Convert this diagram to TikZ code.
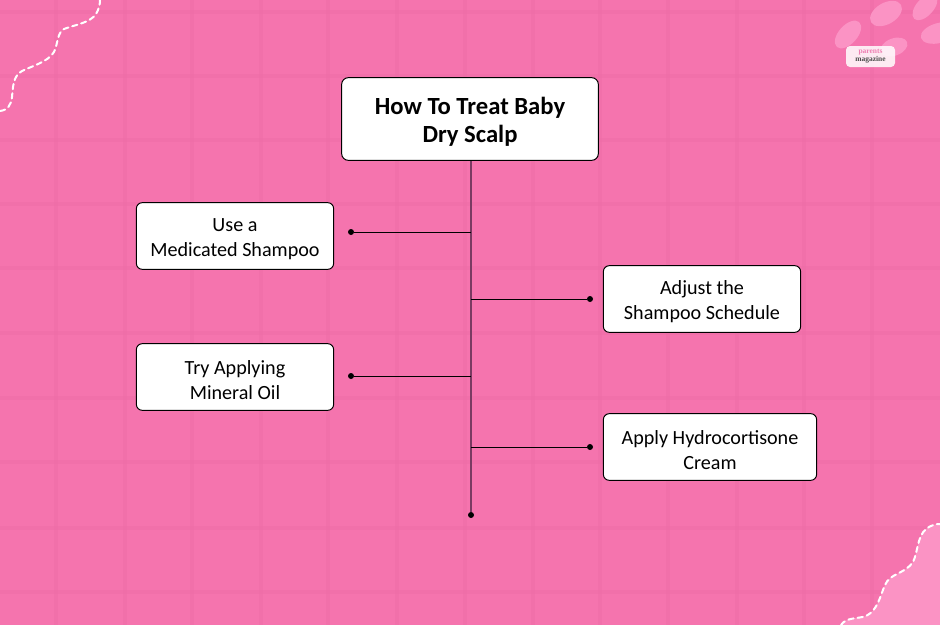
\documentclass[tikz,border=0pt]{standalone}
\usepackage{fontspec}
\setmainfont{Carlito}
\newfontfamily\logofont{Liberation Serif}
\definecolor{bgpink}{HTML}{F574AE}
\definecolor{gridpink}{HTML}{EE6DA7}
\definecolor{lightpink}{HTML}{FB93C4}
\definecolor{trunkcol}{HTML}{7A3A62}
\definecolor{logopink}{HTML}{EE7FB2}
\newcommand\fstup{\rule{0pt}{14.5pt}}
\newcommand\ttlup{\rule{0pt}{17pt}}
\tikzset{
 x=0.75pt,y=-0.75pt,
 item/.style={draw=black,fill=white,rounded corners=4.5pt,line width=0.75pt,align=center,font=\fontsize{15.1}{18.75}\selectfont,inner sep=0pt},
 title/.style={item,font=\fontsize{18.5}{21}\selectfont\bfseries,rounded corners=5pt},
 conn/.style={draw=black,line width=0.75pt},
 trunk/.style={draw=trunkcol,line width=1.2pt},
 dot/.style={circle,fill=black,inner sep=0pt,minimum size=4.5pt},
 gridl/.style={draw=gridpink,line width=2.6pt,opacity=0.5},
 deco/.style={fill=lightpink},
 wave/.style={draw=white,line width=1.5pt,dash pattern=on 4pt off 3pt,line cap=round},
}
\begin{document}
\begin{tikzpicture}
\useasboundingbox (0,0) rectangle (940,625);
\fill[bgpink] (0,0) rectangle (940,625);
\foreach \gx in {56,125,192,261,328,397,465,533,600,668,737,804,872}
  \draw[gridl] (\gx,0) -- (\gx,625);
\foreach \gy in {12,76,140,204,268,333,398,462,528,592}
  \draw[gridl] (0,\gy) -- (940,\gy);
% corner decoration, bottom right
\fill[deco] (841,625) .. controls (846,617) and (858,619) .. (866,616)
  .. controls (878,610) and (880,596) .. (885,585)
  .. controls (890,573) and (905,574) .. (913,562)
  .. controls (918,552) and (917,537) .. (926,529)
  .. controls (931,525) and (936,524) .. (940,524) -- (940,625) -- cycle;
\draw[wave] (841,625) .. controls (846,617) and (858,619) .. (866,616)
  .. controls (878,610) and (880,596) .. (885,585)
  .. controls (890,573) and (905,574) .. (913,562)
  .. controls (918,552) and (917,537) .. (926,529)
  .. controls (931,525) and (936,524) .. (940,524);
% wave, top left
\draw[wave] (0,111) .. controls (8,110) and (11,105) .. (12,97)
  .. controls (13,87) and (13,76) .. (22,71)
  .. controls (32,66) and (48,62) .. (54,52)
  .. controls (58,44) and (57,33) .. (64,29)
  .. controls (74,25) and (90,23) .. (96,14)
  .. controls (99,9) and (100,4) .. (100,0);
% blobs, top right
\fill[deco] (848,34.5) ellipse [x radius=12.5pt,y radius=7pt,rotate=48];
\fill[deco] (886,13.5) ellipse [x radius=13pt,y radius=8pt,rotate=30];
\fill[deco] (925,7) ellipse [x radius=12pt,y radius=6.5pt,rotate=48];
\fill[deco] (939,33) ellipse [x radius=14pt,y radius=7.5pt,rotate=15];
\fill[deco] (894,47) ellipse [x radius=10.5pt,y radius=6.5pt,rotate=20];
% logo
\node[fill=white,fill opacity=0.85,text opacity=1,rounded corners=3pt,minimum width=36.75pt,minimum height=15.75pt,inner sep=0pt,align=center,font=\fontsize{5.6}{4.4}\logofont\bfseries] (logo) at (870.5,56.5)
  {\textcolor{logopink}{parents}\\\textcolor{black!70}{magazine}};
% nodes
\node[title,minimum width=192.5pt,minimum height=62pt] (t) at (470,119) {\ttlup How To Treat Baby\\Dry Scalp};
\node[item,minimum width=148pt,minimum height=50pt] (a) at (235,236) {\fstup Use a\\Medicated Shampoo};
\node[item,minimum width=148pt,minimum height=50pt] (b) at (702,299) {\fstup Adjust the\\Shampoo Schedule};
\node[item,minimum width=148pt,minimum height=50pt] (c) at (235,377) {\fstup Try Applying\\Mineral Oil};
\node[item,minimum width=160pt,minimum height=50pt] (d) at (710,447) {\fstup Apply Hydrocortisone\\Cream};
% connectors
\node[dot] (e) at (471,515) {};
\coordinate (ja) at (471,232);
\coordinate (jb) at (471,299);
\coordinate (jc) at (471,376);
\coordinate (jd) at (471,447);
\node[dot] (da) at (351,232) {};
\node[dot] (db) at (590,299) {};
\node[dot] (dc) at (351,376) {};
\node[dot] (dd) at (590,447) {};
\draw[trunk] (t.south -| e) -- (e);
\draw[conn] (da) -- (ja);
\draw[conn] (db) -- (jb);
\draw[conn] (dc) -- (jc);
\draw[conn] (dd) -- (jd);
\end{tikzpicture}
\end{document}
